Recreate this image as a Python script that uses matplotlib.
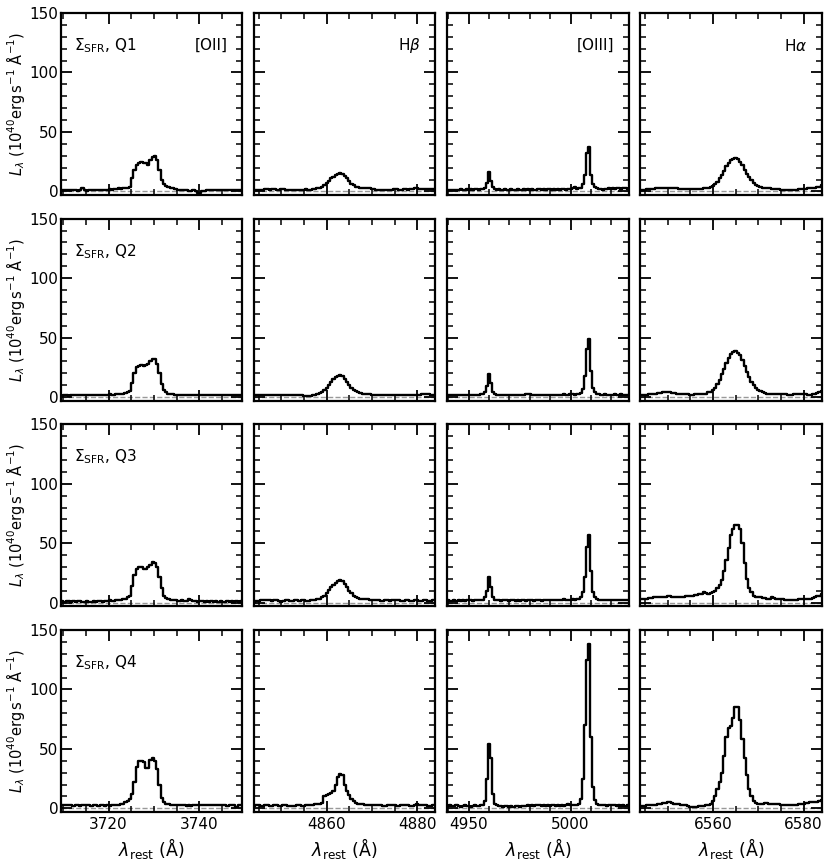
import numpy as np
import matplotlib
matplotlib.use('Agg')
import matplotlib.pyplot as plt
from matplotlib.ticker import MultipleLocator

quartiles = ['Q1', 'Q2', 'Q3', 'Q4']
line_names = ['[OII]', r'H$\beta$', '[OIII]', r'H$\alpha$']

# wavelength grids (rest frame, Angstrom)
wl_oii = np.arange(3709.75, 3749.26, 0.5)
wl_hb = np.arange(4844.0, 4884.01, 0.5)
wl_oiii = np.arange(4940.0, 5028.5, 1.0)
wl_ha = np.arange(6544.0, 6584.01, 0.5)

# ---------------- [OII] ----------------
oii_q1 = [1.5, 1.5, 1.0, 1.0, 1.5, 1.0, 1.0, 0.5, 1.0, 2.5,
          1.0, 0.5, 1.0, 1.0, 1.5, 1.0, 1.5, 1.5, 1.0, 1.5,
          1.5, 2.0, 1.5, 2.0, 2.0, 2.5, 2.0, 2.5, 3.0, 3.0,
          4.0, 11, 18, 22, 24, 24.5, 24, 23.5, 22.5, 26,
          29, 30, 26, 18, 10, 6, 4.5, 3.5, 3.0, 2.5,
          2.0, 1.5, 1.5, 1.0, 1.0, 1.0, 0.5, 0.5, 1.0, 0.5,
          -1.0, -1.5, 0.0, 0.5, 1.0, 1.0, 1.0, 1.5, 1.0, 1.0,
          1.5, 1.0, 1.0, 1.5, 1.5, 1.0, 1.5, 1.5, 1.0, 1.5]
oii_q2 = [1.0, 1.5, 1.5, 1.0, 1.5, 1.5, 1.5, 2.0, 1.5, 1.5,
          2.0, 1.5, 1.5, 2.0, 1.5, 1.5, 2.0, 1.5, 2.0, 2.0,
          1.5, 2.5, 2.0, 2.0, 2.5, 2.5, 3.0, 3.0, 3.5, 4.0,
          5.0, 12, 20, 25, 26.5, 27, 26, 27, 28, 30,
          32, 32, 28, 20, 11, 6, 4, 3, 2.5, 2.5,
          2.0, 2.0, 2.0, 1.5, 2.0, 1.5, 1.5, 2.0, 1.5, 1.5,
          2.0, 1.5, 2.0, 2.0, 1.5, 2.0, 1.5, 2.0, 2.0, 1.5,
          1.5, 2.0, 2.0, 1.5, 2.0, 1.5, 2.0, 2.0, 1.5, 2.0]
oii_q3 = [1.5, 1.0, 1.5, 1.5, 1.0, 1.5, 1.0, 1.5, 1.5, 1.0,
          1.0, 1.5, 1.0, 1.0, 1.5, 1.0, 1.5, 1.5, 1.0, 1.5,
          1.5, 2.0, 1.5, 1.5, 2.0, 2.5, 2.5, 3.0, 3.5, 4.5,
          6, 14, 23, 28, 30, 30, 28, 28, 30, 32,
          34, 33.5, 30, 22, 12, 6, 4, 3, 2.5, 2,
          2.0, 1.5, 1.5, 2.0, 1.5, 1.5, 3.0, 2.5, 1.5, 1.5,
          1.0, 1.5, 1.5, 1.0, 1.5, 1.0, 1.5, 1.0, 1.5, 1.0,
          1.5, 1.0, 1.0, 1.5, 1.0, 1.5, 1.0, 1.5, 1.0, 1.5]
oii_q4 = [2.5, 2.5, 3.0, 2.5, 2.5, 2.0, 2.5, 2.5, 2.0, 2.5,
          3.0, 2.5, 2.5, 2.0, 2.5, 2.5, 2.0, 2.5, 2.5, 2.0,
          2.5, 2.0, 2.5, 2.5, 3.0, 3.0, 3.5, 4.0, 5.0, 6.0,
          8, 12, 22, 35, 40, 40, 39, 34, 34, 41,
          42, 40, 33, 20, 9, 5, 4, 3.5, 3, 3,
          3.0, 2.5, 3.0, 2.5, 2.5, 2.0, 2.5, 2.0, 2.5, 3.0,
          3.0, 2.5, 3.0, 3.0, 2.5, 3.0, 3.0, 2.5, 3.0, 2.5,
          3.0, 3.0, 2.5, 2.0, 2.5, 3.0, 2.5, 1.5, 2.5, 3.0]

# ---------------- Hbeta ----------------
hb_q1 = [1.5, 1.5, 1.0, 1.5, 1.5, 2.0, 2.0, 1.5, 2.0, 2.0,
         1.5, 1.5, 2.0, 2.0, 1.5, 1.5, 1.5, 1.0, 1.0, 1.5,
         1.5, 1.5, 1.5, 2.0, 1.5, 1.5, 2.0, 2.0, 2.5, 3.0,
         4.0, 5.0, 7.0, 9.0, 11, 12.5, 14, 15, 15.5, 15,
         13, 11, 8.5, 6.5, 5.0, 4.0, 3.5, 3.0, 2.5, 2.5,
         3.0, 2.5, 2.0, 2.0, 1.5, 1.5, 1.5, 1.5, 1.5, 1.5,
         1.5, 1.5, 2.0, 2.0, 1.5, 1.5, 2.0, 2.0, 1.5, 2.0,
         2.0, 2.5, 3.0, 2.0, 2.0, 2.0, 2.0, 2.0, 2.0, 2.0,
         2.0]
hb_q2 = [1.5, 1.5, 1.5, 2.0, 2.0, 1.5, 1.5, 1.5, 1.5, 2.0,
         2.0, 1.5, 1.5, 2.0, 2.0, 1.5, 1.5, 1.5, 1.5, 2.0,
         2.0, 1.5, 1.0, 0.5, 0.5, 1.0, 1.5, 2.0, 2.5, 3.5,
         4.5, 6.0, 8.0, 10.5, 13, 15.5, 17, 18, 18.5, 17.5,
         15, 12.5, 10, 8, 6, 5, 4, 3.5, 3.0, 2.5,
         2.5, 2.5, 2.0, 2.0, 2.0, 2.0, 1.5, 1.5, 2.0, 2.0,
         2.0, 2.0, 1.5, 1.5, 2.0, 2.0, 2.0, 2.0, 1.5, 1.5,
         2.0, 2.0, 2.0, 2.0, 2.5, 3.0, 3.0, 2.5, 2.0, 2.0,
         2.0]
hb_q3 = [1.0, 1.5, 1.5, 2.0, 2.0, 2.5, 2.5, 2.0, 1.5, 2.0,
         2.0, 1.5, 1.0, 1.5, 2.0, 2.0, 1.5, 1.5, 2.5, 2.0,
         1.5, 2.0, 2.0, 1.5, 1.5, 2.0, 2.0, 2.5, 3.0, 3.5,
         4.5, 6.0, 8.0, 10.5, 13, 15, 17, 18.5, 19, 18,
         16, 13, 10, 8, 6, 5, 4, 3.5, 3.0, 3.0,
         3.0, 2.5, 2.0, 2.0, 2.5, 2.0, 1.5, 1.5, 2.0, 2.0,
         1.5, 2.0, 2.0, 2.0, 2.0, 1.5, 1.5, 2.0, 2.0, 1.5,
         1.5, 2.0, 2.0, 1.5, 1.5, 2.0, 2.0, 1.5, 1.5, 2.0,
         2.0]
hb_q4 = [2.0, 2.5, 2.5, 2.0, 2.0, 2.5, 2.5, 2.0, 2.0, 2.5,
         2.5, 2.0, 2.0, 2.5, 2.5, 2.0, 2.0, 2.0, 2.0, 2.5,
         2.5, 2.0, 2.0, 2.5, 2.5, 3.0, 3.0, 3.5, 3.5, 4.0,
         4.5, 10, 11, 12, 13, 15, 20, 26, 29, 28,
         20, 15, 11, 8, 6, 4.5, 4.0, 3.5, 3.5, 3.0,
         3.0, 3.0, 3.0, 2.5, 2.5, 2.5, 2.5, 2.0, 2.0, 2.5,
         2.5, 2.5, 2.5, 2.0, 2.0, 2.5, 2.5, 2.5, 2.5, 2.0,
         2.0, 2.5, 4.0, 2.5, 2.5, 2.5, 2.5, 2.0, 2.0, 2.5,
         2.5]

# ---------------- [OIII] ----------------
oiii_q1 = [1.5, 1.0, 1.5, 1.5, 1.0, 1.5, 2.0, 1.5, 1.5, 2.0,
           1.5, 2.0, 1.5, 2.0, 2.0, 1.5, 2.0, 2.0, 3.0, 7.0,
           16, 9, 3.5, 2.0, 1.5, 2.0, 1.5, 1.5, 2.0, 1.5,
           1.5, 2.0, 1.5, 1.5, 2.0, 1.5, 1.5, 2.0, 1.5, 2.0,
           1.5, 2.0, 1.5, 1.5, 2.0, 2.0, 1.5, 2.0, 1.5, 2.0,
           2.0, 1.5, 2.0, 1.5, 2.0, 1.5, 2.0, 2.0, 1.5, 2.0,
           2.0, 2.5, 3.5, 2.0, 2.5, 3.0, 6.0, 14, 32, 37,
           14, 6, 3.5, 2.5, 2.0, 2.0, 1.5, 2.0, 2.0, 2.5,
           2.0, 2.5, 2.0, 2.5, 2.5, 2.0, 2.5, 2.5, 2.0]
oiii_q2 = [1.5, 1.5, 2.0, 1.5, 2.0, 1.5, 1.5, 2.0, 2.0, 1.5,
           2.0, 1.5, 2.0, 2.0, 1.5, 2.0, 2.5, 2.5, 4.0, 9.0,
           19.5, 12, 4.5, 2.5, 2.0, 1.5, 2.0, 2.0, 1.5, 2.0,
           2.0, 1.5, 2.0, 2.0, 1.5, 2.0, 2.0, 2.0, 2.5, 3.0,
           2.5, 2.0, 2.0, 1.5, 2.0, 2.0, 1.5, 2.0, 2.0, 1.5,
           2.0, 2.0, 1.5, 2.0, 2.0, 1.5, 2.0, 2.5, 2.0, 2.0,
           3.0, 2.5, 2.0, 2.5, 3.0, 3.5, 7.0, 18, 40, 49,
           22, 8, 4.0, 3.0, 2.5, 2.0, 2.0, 2.5, 2.0, 2.0,
           2.0, 2.0, 2.5, 2.0, 2.0, 2.5, 2.0, 2.0, 2.0]
oiii_q3 = [2.0, 1.5, 1.5, 2.0, 1.5, 2.0, 1.5, 2.0, 1.5, 2.0,
           2.0, 2.0, 1.5, 2.0, 2.0, 2.0, 2.5, 2.5, 4.5, 10,
           22, 13, 5.0, 2.5, 2.0, 2.0, 1.5, 2.0, 2.0, 2.0,
           1.5, 2.0, 2.0, 1.5, 2.0, 1.5, 2.0, 2.0, 1.5, 2.5,
           2.0, 2.0, 1.5, 2.0, 2.5, 2.0, 1.5, 2.0, 2.5, 2.0,
           2.0, 2.5, 2.0, 2.0, 2.5, 2.0, 2.0, 3.5, 2.5, 2.5,
           2.5, 3.0, 2.5, 3.0, 3.5, 5.0, 9.0, 22, 47, 57,
           27, 9, 4.5, 3.0, 2.5, 2.5, 2.0, 2.5, 2.0, 2.0,
           2.0, 2.5, 2.0, 2.0, 2.5, 2.0, 2.0, 2.5, 2.0]
oiii_q4 = [2.0, 2.5, 2.0, 2.0, 2.5, 2.0, 1.5, 2.0, 2.5, 2.0,
           2.0, 1.5, 2.0, 2.5, 2.0, 2.0, 2.5, 3.0, 6.0, 25,
           54, 42, 12, 4.0, 2.5, 2.0, 2.0, 1.5, 2.0, 2.0,
           1.5, 2.0, 1.5, 2.0, 2.0, 1.5, 2.0, 2.0, 2.0, 2.5,
           2.0, 2.5, 2.0, 2.5, 3.0, 2.5, 2.0, 2.5, 2.0, 2.5,
           2.0, 2.5, 2.5, 2.0, 2.5, 2.0, 2.5, 2.0, 3.0, 3.5,
           3.0, 2.5, 3.0, 3.0, 4.0, 8.0, 25, 70, 125, 138,
           60, 18, 7.0, 4.0, 3.0, 2.5, 3.0, 2.5, 2.0, 2.5,
           2.5, 3.0, 2.5, 2.0, 2.5, 2.0, 2.5, 2.0, 2.5]

# ---------------- Halpha ----------------
ha_q1 = [1.5, 1.5, 1.5, 2.0, 2.0, 2.0, 2.0, 2.5, 2.5, 2.5,
         2.5, 3.0, 3.0, 2.5, 2.5, 2.5, 2.5, 2.0, 2.0, 2.0,
         2.0, 2.0, 2.0, 2.0, 2.0, 2.0, 2.0, 2.0, 2.5, 2.5,
         3.0, 3.5, 4.5, 6.0, 8.0, 11, 14, 17.5, 21, 24,
         26, 27.5, 28, 27, 25, 22, 18, 15, 12, 9.5,
         7.0, 5.5, 4.5, 3.5, 3.0, 2.5, 2.5, 2.5, 2.0, 2.0,
         2.0, 2.0, 1.5, 1.5, 1.5, 1.5, 1.5, 1.5, 1.5, 1.5,
         2.0, 2.0, 2.0, 2.0, 2.5, 2.5, 3.0, 3.0, 3.5, 4.0,
         5.0]
ha_q2 = [2.0, 2.0, 2.0, 2.0, 2.5, 2.5, 3.0, 3.0, 3.5, 3.5,
         4.0, 4.0, 4.0, 4.0, 3.5, 3.5, 3.0, 3.0, 2.5, 2.5,
         2.5, 2.5, 2.0, 2.0, 2.5, 2.5, 2.5, 2.5, 3.0, 3.0,
         4.0, 4.5, 6.0, 8.0, 11, 14, 19, 24, 29, 33,
         36, 38, 38.5, 37, 35, 31, 26, 21, 17, 13,
         10, 8, 6, 5, 4, 3.5, 3.0, 3.0, 2.5, 2.5,
         3.0, 3.0, 2.5, 2.5, 2.5, 2.0, 2.0, 2.0, 2.5, 2.5,
         2.5, 2.5, 2.5, 2.5, 2.0, 2.0, 2.5, 3.0, 3.5, 4.0,
         5.0]
ha_q3 = [3.0, 3.0, 3.5, 3.5, 4.0, 4.0, 4.5, 4.5, 5.0, 5.0,
         5.0, 5.0, 5.5, 5.5, 5.0, 5.0, 5.0, 5.0, 5.0, 5.0,
         5.5, 5.5, 6.0, 6.0, 6.5, 6.5, 7.0, 7.0, 9.0, 8.0,
         7.0, 8.0, 9.0, 10, 12, 15, 19, 27, 36, 46,
         57, 62, 65, 65, 62, 50, 33, 20, 12, 9,
         6.0, 5.0, 4.5, 4.5, 4.0, 4.0, 3.5, 3.5, 4.5, 4.0,
         3.5, 3.5, 3.0, 3.0, 2.5, 2.5, 2.5, 2.5, 2.5, 2.5,
         3.0, 3.0, 3.0, 3.0, 3.5, 3.5, 4.0, 4.5, 5.5, 6.0,
         7.0]
ha_q4 = [2.0, 2.0, 2.0, 2.5, 2.5, 2.5, 2.5, 3.0, 3.5, 4.0,
         4.5, 4.5, 5.0, 5.0, 4.5, 4.0, 3.5, 3.5, 3.0, 3.0,
         2.5, 2.0, 1.5, 1.5, 1.5, 1.5, 2.0, 2.0, 2.0, 2.5,
         3.0, 4.0, 6.0, 10, 16, 22, 30, 44, 60, 68,
         69, 76, 85, 85, 74, 58, 42, 28, 16, 10,
         6.0, 4.5, 3.5, 3.5, 4.0, 4.5, 4.5, 4.0, 4.0, 3.5,
         3.5, 3.5, 3.0, 3.0, 2.5, 2.5, 2.5, 2.5, 3.0, 3.0,
         3.5, 4.0, 4.0, 4.5, 4.5, 5.0, 5.0, 5.5, 5.5, 6.0,
         7.0]

grids = [wl_oii, wl_hb, wl_oiii, wl_ha]
fluxes = [[oii_q1, hb_q1, oiii_q1, ha_q1],
          [oii_q2, hb_q2, oiii_q2, ha_q2],
          [oii_q3, hb_q3, oiii_q3, ha_q3],
          [oii_q4, hb_q4, oiii_q4, ha_q4]]

xlims = [(3709.5, 3749.5), (4844.0, 4884.0), (4939.5, 5028.5), (6544.0, 6584.0)]
xmajor = [20, 20, 50, 20]
xminor = [5, 5, 10, 5]

fig, axes = plt.subplots(4, 4, figsize=(8.3, 8.66), dpi=100)
fig.subplots_adjust(left=0.0735, right=0.99, top=0.985, bottom=0.0624,
                    wspace=0.066, hspace=0.13)

for r in range(4):
    for c in range(4):
        ax = axes[r, c]
        ax.axhline(0, color='0.6', ls='--', lw=1.0, zorder=1)
        ax.plot(grids[c], fluxes[r][c], drawstyle='steps-mid', color='black',
                lw=1.7, zorder=2)
        ax.set_xlim(*xlims[c])
        ax.set_ylim(-3, 150)
        ax.xaxis.set_major_locator(MultipleLocator(xmajor[c]))
        ax.xaxis.set_minor_locator(MultipleLocator(xminor[c]))
        ax.yaxis.set_major_locator(MultipleLocator(50))
        ax.yaxis.set_minor_locator(MultipleLocator(10))
        ax.tick_params(which='both', direction='in', top=True, right=True,
                       labelsize=11)
        ax.tick_params(axis='y', pad=2)
        ax.tick_params(which='major', length=8, width=1.3)
        ax.tick_params(which='minor', length=4.5, width=1.1)
        for s in ax.spines.values():
            s.set_linewidth(1.6)
        if c != 0:
            ax.tick_params(labelleft=False)
        else:
            ax.set_ylabel(r'$L_{\lambda}$ ($10^{40}$erg$\,$s$^{-1}$ Å$^{-1}$)',
                          fontsize=10.5, labelpad=2)
            ax.text(0.07, 0.82, r'$\Sigma_{\rm SFR}$, ' + quartiles[r],
                    transform=ax.transAxes, fontsize=11, ha='left', va='center')
        if r != 3:
            ax.tick_params(labelbottom=False)
        else:
            ax.set_xlabel(r'$\lambda_{\rm rest}$ (Å)', fontsize=12.5, labelpad=3)
        if r == 0:
            ax.text(0.92, 0.82, line_names[c], transform=ax.transAxes,
                    fontsize=11, ha='right', va='center')

fig.savefig('out.png', dpi=100)
